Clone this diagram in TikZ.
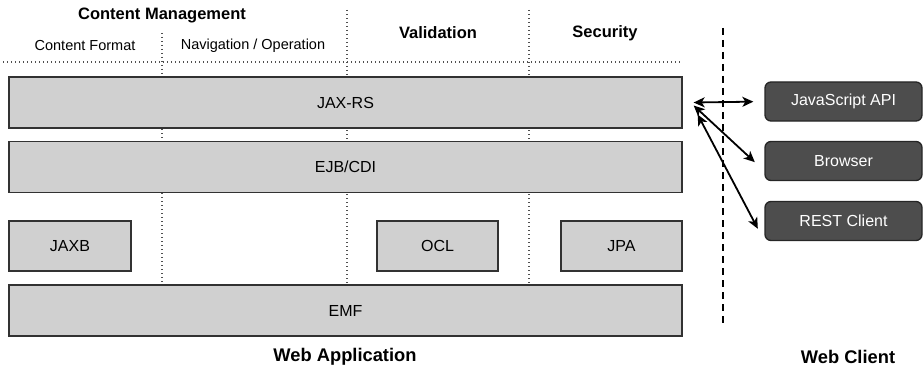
\documentclass[tikz,border=0pt]{standalone}
\usepackage{fontspec}
\setmainfont{Liberation Sans}
\usetikzlibrary{arrows.meta,positioning}

\definecolor{boxgray}{RGB}{208,208,208}
\definecolor{edgegray}{RGB}{50,50,50}
\definecolor{clientgray}{RGB}{77,77,77}
\definecolor{sepgray}{RGB}{80,80,80}

\tikzstyle{layerbox} = [draw=edgegray, fill=boxgray, line width=1.3pt, minimum width=673pt, minimum height=51pt, inner sep=0pt, font=\fontsize{16}{19}\selectfont]
\tikzstyle{blockM} = [layerbox, minimum width=121pt, minimum height=50pt]
\tikzstyle{client} = [draw=black!85, fill=clientgray, text=white, rounded corners=6pt, line width=1.3pt, minimum width=157pt, minimum height=39pt, inner sep=0pt, font=\fontsize{16}{19}\selectfont]
\tikzstyle{heading} = [font=\bfseries\fontsize{16.5}{19}\selectfont]
\tikzstyle{subheading} = [font=\fontsize{14.5}{17}\selectfont]
\tikzstyle{footer} = [font=\bfseries\fontsize{18.3}{21}\selectfont]
\tikzstyle{separator} = [draw=sepgray, line width=1.1pt, dash pattern=on 1.2pt off 2.8pt]
\tikzstyle{tier} = [draw, line width=1.8pt, dash pattern=on 7pt off 5pt]
\tikzstyle{arrow} = [draw, line width=1.8pt, {Stealth[length=11pt,width=10pt,inset=3pt]}-{Stealth[length=11pt,width=10pt,inset=3pt]}]

\begin{document}
\begin{tikzpicture}[x=1pt, y=-1pt]
  \useasboundingbox (0,0) rectangle (924,369);

  % column separators
  \draw[separator] (3,62) -- (680,62);
  \draw[separator] (162,33) -- (162,285);
  \draw[separator] (347,10) -- (347,285);
  \draw[separator] (529,10) -- (529,285);
  \draw[tier] (723,28) -- (723,325);

  \node[heading] (cm) at (162,15) {Content Management};
  \node[subheading] (cf) at (85,46) {Content Format};
  \node[subheading] (nav) at (253,46) {Navigation / Operation};
  \node[heading] (val) at (438,33) {Validation};
  \node[heading] (sec) at (605,33) {Security};

  \node[layerbox] (jaxrs) at (345.5,102.5) {JAX-RS};
  \node[layerbox, below of=jaxrs, node distance=64.5pt] (ejb) {EJB/CDI};
  \node[layerbox, below of=ejb, node distance=143.5pt] (emf) {EMF};
  \node[blockM, minimum width=122pt] (jaxb) at (70,246) {JAXB};
  \node[blockM] (ocl) at (437.5,246) {OCL};
  \node[blockM, right of=ocl, node distance=184pt] (jpa) {JPA};

  \node[client] (js) at (843.5,101.5) {JavaScript API};
  \node[client, below of=js, node distance=59.5pt] (browser) {Browser};
  \node[client, below of=browser, node distance=60pt] (rest) {REST Client};

  \node[footer] (webapp) at (345,357) {Web Application};
  \node[footer] (webclient) at (848,357) {Web Client};

  \draw[arrow, shorten >=11pt] ([xshift=11pt]jaxrs.east) -- (js.west);
  \draw[arrow, shorten >=13pt] ([xshift=11pt,yshift=-3pt]jaxrs.east) -- ([yshift=-10pt]browser.west);
  \draw[arrow, shorten >=14pt] ([xshift=15pt,yshift=-12pt]jaxrs.east) -- (rest.south west);
\end{tikzpicture}
\end{document}
